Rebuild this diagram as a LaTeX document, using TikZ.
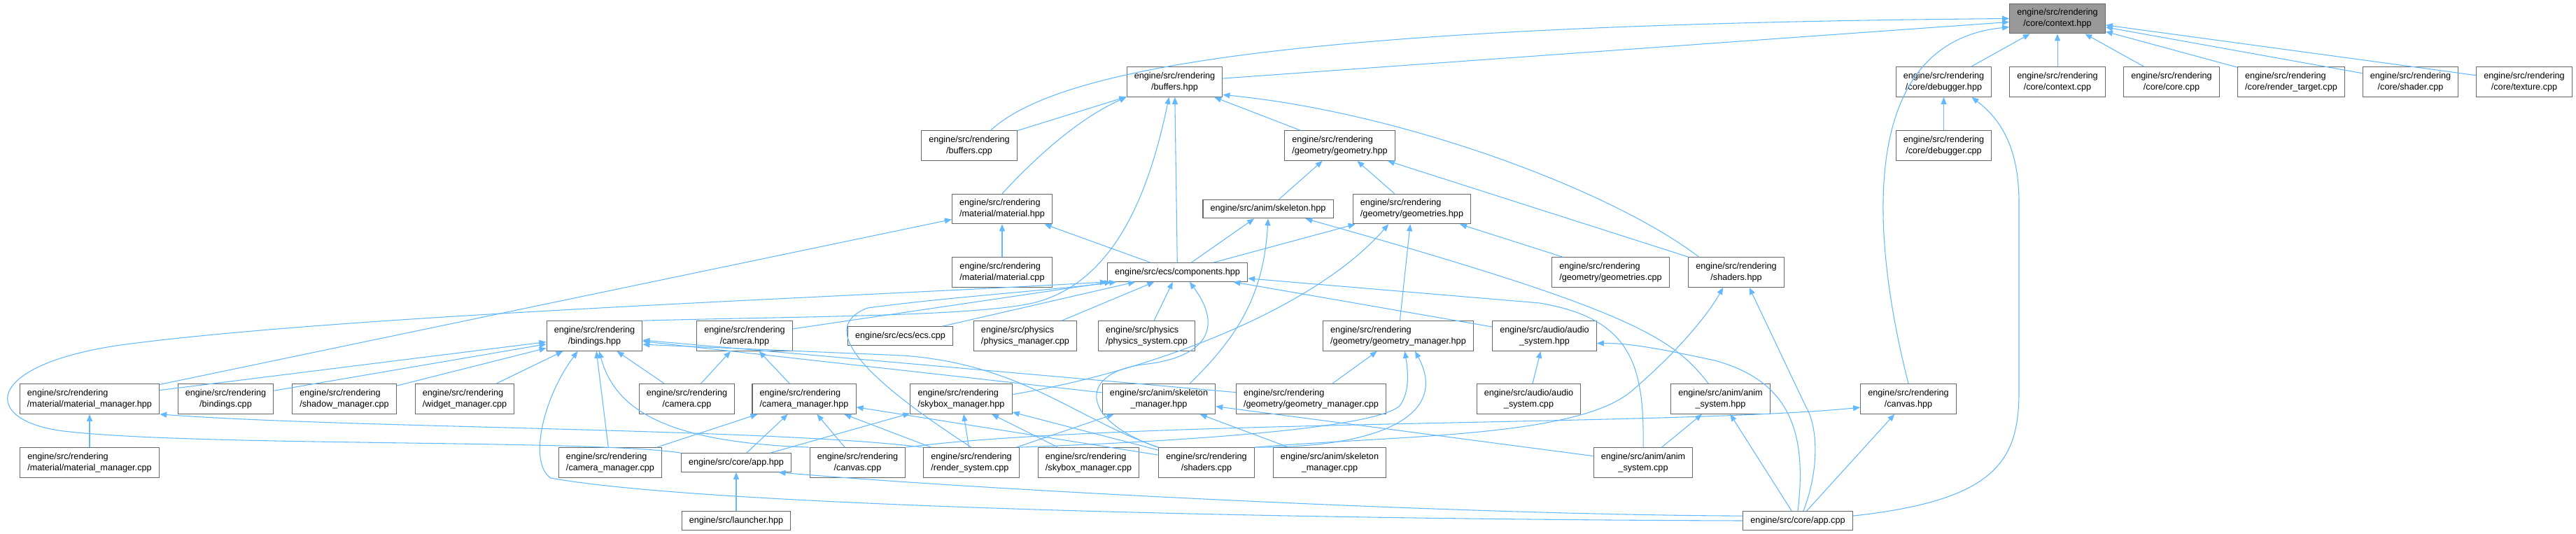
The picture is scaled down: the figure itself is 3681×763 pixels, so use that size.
\documentclass[tikz,border=0pt]{standalone}
\usepackage{fontspec}
\setmainfont{Liberation Sans}
\usetikzlibrary{arrows.meta}
\definecolor{edgeblue}{HTML}{63B8FF}
\definecolor{boxline}{HTML}{666666}
\definecolor{selfill}{HTML}{999999}
\begin{document}
\begin{tikzpicture}[x=0.75pt,y=-0.75pt,font=\fontsize{9.5}{12}\selectfont,
  inc/.style={draw=boxline,fill=white,line width=0.8pt,align=center,inner xsep=8pt,inner ysep=2pt,minimum height=32pt},
  incl/.style={inc,align=left},
  inc1/.style={inc,minimum height=20pt},
  dep/.style={draw=edgeblue,line width=0.8pt,-{Triangle[length=7.5pt,width=6pt]}}]
\useasboundingbox (0,0) rectangle (3681,763);
\node[inc,fill=selfill] (ctxh) at (2940,26.5) {engine/src/rendering\\/core/context.hpp};
\node[inc] (bufh) at (1678.5,117) {engine/src/rendering\\/buffers.hpp};
\node[inc] (dbgh) at (2777.5,117) {engine/src/rendering\\/core/debugger.hpp};
\node[inc] (ctxcpp) at (2940,117) {engine/src/rendering\\/core/context.cpp};
\node[inc] (corecpp) at (3103,117) {engine/src/rendering\\/core/core.cpp};
\node[incl] (rtcpp) at (3274,117) {engine/src/rendering\\/core/render\_target.cpp};
\node[inc] (shadercpp) at (3444.5,117) {engine/src/rendering\\/core/shader.cpp};
\node[inc] (texcpp) at (3607,117) {engine/src/rendering\\/core/texture.cpp};
\node[inc] (bufcpp) at (1385,208) {engine/src/rendering\\/buffers.cpp};
\node[incl] (geomh) at (1914.5,208) {engine/src/rendering\\/geometry/geometry.hpp};
\node[inc] (dbgcpp) at (2777.5,208) {engine/src/rendering\\/core/debugger.cpp};
\node[incl] (math) at (1432,298.5) {engine/src/rendering\\/material/material.hpp};
\node[inc1] (skelh) at (1812,298.5) {engine/src/anim/skeleton.hpp};
\node[incl] (geomsh) at (2017.5,298.5) {engine/src/rendering\\/geometry/geometries.hpp};
\node[incl] (matcpp) at (1432,389) {engine/src/rendering\\/material/material.cpp};
\node[inc1] (comph) at (1682.5,389) {engine/src/ecs/components.hpp};
\node[incl] (geomscpp) at (2301.5,389) {engine/src/rendering\\/geometry/geometries.cpp};
\node[inc] (shadersh) at (2481,389) {engine/src/rendering\\/shaders.hpp};
\node[inc] (bindh) at (849.5,480) {engine/src/rendering\\/bindings.hpp};
\node[inc] (camh) at (1064,480) {engine/src/rendering\\/camera.hpp};
\node[inc1] (ecscpp) at (1286.5,480) {engine/src/ecs/ecs.cpp};
\node[incl] (physmgr) at (1465,480) {engine/src/physics\\/physics\_manager.cpp};
\node[incl] (physsys) at (1638.5,480) {engine/src/physics\\/physics\_system.cpp};
\node[incl] (geommgrh) at (1998,480) {engine/src/rendering\\/geometry/geometry\_manager.hpp};
\node[inc] (audioh) at (2207,480) {engine/src/audio/audio\\\_system.hpp};
\node[incl] (matmgrh) at (128,570) {engine/src/rendering\\/material/material\_manager.hpp};
\node[inc] (bindcpp) at (322.5,570) {engine/src/rendering\\/bindings.cpp};
\node[incl] (shadowcpp) at (492,570) {engine/src/rendering\\/shadow\_manager.cpp};
\node[incl] (widgetcpp) at (664,570) {engine/src/rendering\\/widget\_manager.cpp};
\node[inc] (camcpp) at (981.5,570) {engine/src/rendering\\/camera.cpp};
\node[incl] (cammgrh) at (1149,570) {engine/src/rendering\\/camera\_manager.hpp};
\node[incl] (skyboxh) at (1373.5,570) {engine/src/rendering\\/skybox\_manager.hpp};
\node[inc] (skelmgrh) at (1656,570) {engine/src/anim/skeleton\\\_manager.hpp};
\node[incl] (geommgrcpp) at (1873.5,570) {engine/src/rendering\\/geometry/geometry\_manager.cpp};
\node[inc] (audiocpp) at (2184.5,570) {engine/src/audio/audio\\\_system.cpp};
\node[inc] (animh) at (2458.5,570) {engine/src/anim/anim\\\_system.hpp};
\node[inc] (canvash) at (2727,570) {engine/src/rendering\\/canvas.hpp};
\node[incl] (matmgrcpp) at (128,661) {engine/src/rendering\\/material/material\_manager.cpp};
\node[incl] (cammgrcpp) at (872,661) {engine/src/rendering\\/camera\_manager.cpp};
\node[inc1] (apph) at (1052,661) {engine/src/core/app.hpp};
\node[inc] (canvascpp) at (1225.5,661) {engine/src/rendering\\/canvas.cpp};
\node[incl] (rendercpp) at (1388,661) {engine/src/rendering\\/render\_system.cpp};
\node[incl] (skyboxcpp) at (1555.5,661) {engine/src/rendering\\/skybox\_manager.cpp};
\node[inc] (shaderscpp) at (1724,661) {engine/src/rendering\\/shaders.cpp};
\node[inc] (skelmgrcpp) at (1900,661) {engine/src/anim/skeleton\\\_manager.cpp};
\node[inc] (animcpp) at (2348,661) {engine/src/anim/anim\\\_system.cpp};
\node[inc1] (launcher) at (1052,744) {engine/src/launcher.hpp};
\node[inc1] (appcpp) at (2569,744) {engine/src/core/app.cpp};
\draw[dep] ([xshift=23pt]bufcpp.north) .. controls (1520,90) and (1900,35) .. (ctxh.west);
\draw[dep] (bufh) -- (ctxh);
\draw[dep] (canvash.north) .. controls (2669,320) and (2660,60) .. (ctxh.190);
\draw[dep] (dbgh) -- (ctxh);
\draw[dep] (ctxcpp) -- (ctxh);
\draw[dep] (corecpp) -- (ctxh);
\draw[dep] (rtcpp) -- (ctxh);
\draw[dep] (shadercpp) -- (ctxh);
\draw[dep] (texcpp) -- (ctxh);
\draw[dep] (bufcpp) -- (bufh);
\draw[dep] (math.north) .. controls (1480,225) and (1540,170) .. (bufh.south west);
\draw[dep] (comph) -- (bufh);
\draw[dep] (bindh.north east) .. controls (1150,452) and (1400,452) .. (1480,432) .. controls (1600,400) and (1645,260) .. ([xshift=-6pt]bufh.south);
\draw[dep] (geomh) -- (bufh);
\draw[dep] ([xshift=-40pt]shadersh.north) .. controls (2300,270) and (2000,160) .. (bufh.-15);
\draw[dep] (dbgcpp) -- (dbgh);
\draw[dep] (appcpp.5) .. controls (2850,715) and (2885,660) .. (2885,560) -- (2885,290) .. controls (2885,220) and (2865,175) .. ([xshift=30pt]dbgh.south);
\draw[dep] (matmgrh) -- (math);
\draw[dep] (matcpp) -- (math);
\draw[dep] (comph) -- (math);
\draw[dep] (comph) -- (skelh);
\draw[dep] ([xshift=33pt]skelmgrh.north) .. controls (1770,480) and (1806,420) .. (skelh.south);
\draw[dep] ([xshift=-13pt]animh.north) .. controls (2390,480) and (2320,440) .. ([xshift=40pt]skelh.south);
\draw[dep] (skelh) -- (geomh);
\draw[dep] (geomsh) -- (geomh);
\draw[dep] (shadersh) -- (geomh);
\draw[dep] (comph) -- (geomsh);
\draw[dep] (skyboxh.5) .. controls (1650,530) and (1880,440) .. ([xshift=-25pt]geomsh.south);
\draw[dep] (geommgrh) -- (geomsh);
\draw[dep] (geomscpp) -- (geomsh);
\draw[dep] (matmgrcpp) -- (matmgrh);
\draw[dep] (rendercpp.north west) .. controls (1100,612) and (500,612) .. (matmgrh.south east);
\draw[dep] (matmgrh) -- (bindh);
\draw[dep] (bindcpp) -- (bindh);
\draw[dep] (shadowcpp) -- (bindh);
\draw[dep] (widgetcpp) -- (bindh);
\draw[dep] (camcpp) -- (bindh);
\draw[dep] (cammgrcpp) -- (bindh);
\draw[dep] (canvascpp.north west) .. controls (960,632) and (880,590) .. ([xshift=5pt]bindh.south);
\draw[dep] (appcpp.west) .. controls (1800,742) and (1000,722) .. (787,683) .. controls (755,662) and (775,570) .. ([xshift=-18pt]bindh.south);
\draw[dep] (skelmgrh) -- (bindh);
\draw[dep] (geommgrcpp) -- (bindh);
\draw[dep] (shaderscpp.north west) .. controls (1540,600) and (1460,520) .. (1290,508) -- (bindh.-10);
\draw[dep] (cammgrcpp) -- (cammgrh);
\draw[dep] (apph) -- (cammgrh);
\draw[dep] (canvascpp) -- (cammgrh);
\draw[dep] (rendercpp) -- (cammgrh);
\draw[dep] (shaderscpp) -- (cammgrh);
\draw[dep] (camcpp) -- (camh);
\draw[dep] (cammgrh) -- (camh);
\draw[dep] (camh) -- (comph);
\draw[dep] (apph.north west) .. controls (850,628) and (300,638) .. (100,617) .. controls (-30,605) and (-30,520) .. (180,492) .. controls (500,450) and (1200,425) .. (comph.south west);
\draw[dep] (rendercpp.north) .. controls (1250,550) and (1160,470) .. (1240,440) .. controls (1350,425) and (1500,415) .. ([xshift=10pt]comph.south west);
\draw[dep] (ecscpp) -- (comph);
\draw[dep] (physmgr) -- (comph);
\draw[dep] (physsys) -- (comph);
\draw[dep] (shaderscpp.north west) .. controls (1540,600) and (1540,530) .. (1640,520) .. controls (1720,510) and (1750,470) .. ([xshift=13pt]comph.south);
\draw[dep] (audioh) -- (comph);
\draw[dep] (animcpp.north) .. controls (2350,520) and (2330,455) .. (2200,433) -- (comph.-5);
\draw[dep] (geommgrcpp) -- (geommgrh);
\draw[dep] (rendercpp.north east) .. controls (1650,632) and (1960,615) .. (2000,580) .. controls (2015,560) and (2012,530) .. ([xshift=7pt]geommgrh.south);
\draw[dep] (shaderscpp.north east) .. controls (1980,640) and (2070,590) .. ([xshift=18pt]geommgrh.south);
\draw[dep] (shaderscpp.north east) .. controls (2000,622) and (2250,625) .. (2330,560) .. controls (2400,500) and (2440,450) .. ([xshift=-14pt]shadersh.south);
\draw[dep] ([xshift=6pt]appcpp.north) .. controls (2600,670) and (2598,610) .. (2580,580) -- ([xshift=14pt]shadersh.south);
\draw[dep] (skyboxcpp) -- (skyboxh);
\draw[dep] (rendercpp) -- (skyboxh);
\draw[dep] (apph) -- (skyboxh);
\draw[dep] (shaderscpp) -- (skyboxh);
\draw[dep] (rendercpp) -- (skelmgrh);
\draw[dep] (skelmgrcpp) -- (skelmgrh);
\draw[dep] (animcpp) -- (skelmgrh);
\draw[dep] (audiocpp) -- (audioh);
\draw[dep] (appcpp.north) .. controls (2582,620) and (2560,545) .. (2450,515) .. controls (2380,500) and (2330,490) .. (audioh.-8);
\draw[dep] (animcpp) -- (animh);
\draw[dep] (appcpp) -- (animh);
\draw[dep] (canvascpp.north east) .. controls (1600,600) and (2400,608) .. (canvash.190);
\draw[dep] (appcpp) -- (canvash);
\draw[dep] (launcher) -- (apph);
\draw[dep] (appcpp.175) .. controls (2100,736) and (1400,700) .. ([xshift=-14pt]apph.south east);
\end{tikzpicture}
\end{document}
